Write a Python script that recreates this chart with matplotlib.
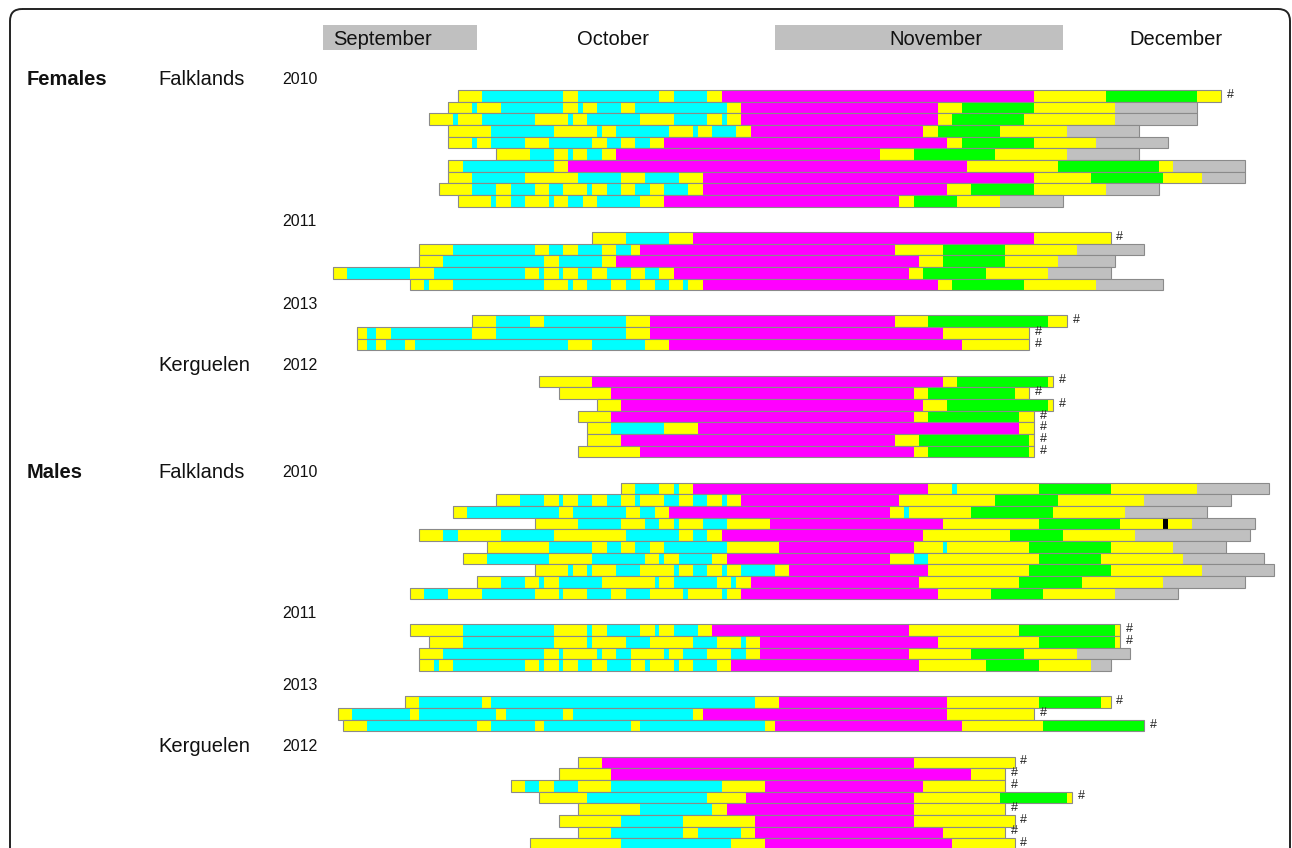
import matplotlib
matplotlib.use("Agg")
import matplotlib.pyplot as plt
from matplotlib.patches import FancyBboxPatch, Rectangle

plt.rcParams['font.family'] = ['Liberation Sans', 'DejaVu Sans']

# ---- data: each row = (start day, colour codes, end day of each segment)
# days counted from 1 September (1 Oct = 30, 1 Nov = 61, 1 Dec = 91)
# codes: y yellow, c cyan, m magenta, g green, s grey, k black
F_FALK_2010 = [
    (28, "ycycycymygy", [30.5, 39, 40.5, 49, 50.5, 54, 55.5, 88, 95.5, 105, 107.5]),
    (27, "ycycycycycymygys", [29.5, 30, 32.5, 39, 40.5, 41, 42.5, 45, 46.5, 56, 57.5, 78, 80.5, 88, 96.5, 105]),
    (25, "ycycycycycycymygys", [27.5, 28, 30.5, 36, 39.5, 40, 41.5, 47, 50.5, 54, 55.5, 56, 57.5, 78, 79.5, 87, 96.5, 105]),
    (27, "ycycycycycymygys", [31.5, 38, 42.5, 43, 44.5, 50, 52.5, 53, 54.5, 57, 58.5, 76.5, 78, 84.5, 91.5, 99]),
    (27, "ycycycycycymygys", [29.5, 30, 31.5, 35, 37.5, 42, 43.5, 45, 46.5, 48, 49.5, 79, 80.5, 88, 94.5, 102]),
    (32, "ycycycymygys", [35.5, 38, 39.5, 40, 41.5, 43, 44.5, 72, 75.5, 84, 91.5, 99]),
    (27, "ycymygys", [28.5, 38, 39.5, 81, 90.5, 101, 102.5, 110]),
    (27, "ycycycymygys", [29.5, 35, 40.5, 45, 47.5, 51, 53.5, 88, 94, 101.5, 105.5, 110]),
    (26, "ycycycycycycycymygys", [29.5, 32, 33.5, 36, 37.5, 39, 41.5, 42, 43.5, 45, 46.5, 48, 49.5, 52, 53.5, 79, 81.5, 88, 95.5, 101]),
    (28, "ycycycycycymygys", [31.5, 32, 33.5, 35, 37.5, 38, 39.5, 41, 42.5, 47, 49.5, 74, 75.5, 80, 84.5, 91]),
]
F_FALK_2011 = [
    (42, "ycymy", [45.5, 50, 52.5, 88, 96]),
    (24, "ycycycycymygys", [27.5, 36, 37.5, 39, 40.5, 43, 44.5, 46, 47, 73.5, 78.5, 85, 92.5, 99.5]),
    (24, "ycycymygys", [26.5, 37, 38.5, 43, 44.5, 76, 78.5, 85, 90.5, 96.5]),
    (15, "ycycycycycycycymygys", [16.5, 23, 25.5, 35, 36.5, 37, 38.5, 39, 40.5, 42, 43.5, 46, 47.5, 49, 50.5, 75, 76.5, 83, 89.5, 96]),
    (23, "ycycycycycycycymygys", [24.5, 25, 27.5, 37, 39.5, 40, 41.5, 44, 45.5, 47, 48.5, 50, 51.5, 52, 53.5, 78, 79.5, 87, 94.5, 101.5]),
]
F_FALK_2013 = [
    (29.5, "ycycymygy", [32, 35.5, 37, 45.5, 48, 73.5, 77, 89.5, 91.5]),
    (17.5, "ycycycymy", [18.5, 19.5, 21, 29.5, 32, 45.5, 48, 78.5, 87.5]),
    (17.5, "ycycycycymy", [18.5, 19.5, 20.5, 22.5, 23.5, 39.5, 42, 47.5, 50, 80.5, 87.5]),
]
F_KERG_2012 = [
    (36.5, "ymygy", [42, 78.5, 80, 89.5, 90]),
    (38.5, "ymygy", [44, 75.5, 77, 86, 87.5]),
    (42.5, "ymygy", [45, 76.5, 79, 89.5, 90]),
    (40.5, "ymygy", [44, 75.5, 77, 86.5, 88]),
    (41.5, "ycymy", [44, 49.5, 53, 86.5, 88]),
    (41.5, "ymygy", [45, 73.5, 76, 87.5, 88]),
    (40.5, "ymygy", [47, 75.5, 77, 87.5, 88]),
]
M_FALK_2010 = [
    (45, "ycycymycygys", [46.5, 49, 50.5, 51, 52.5, 77, 79.5, 80, 88.5, 96, 105, 112.5]),
    (32, "ycycycycycycycycymygys", [34.5, 37, 38.5, 39, 40.5, 42, 43.5, 45, 46.5, 47, 49.5, 51, 52.5, 54, 55.5, 56, 57.5, 74, 84, 90.5, 99.5, 108.5]),
    (27.5, "ycycycymycygys", [29, 38.5, 40, 45.5, 47, 48.5, 50, 73, 74.5, 75, 81.5, 90, 97.5, 106]),
    (36, "ycycycycymygykys", [40.5, 45, 47.5, 49, 50.5, 51, 53.5, 56, 60.5, 78.5, 88.5, 97, 101.5, 102, 104.5, 111]),
    (24, "ycycycycymygys", [26.5, 28, 32.5, 38, 45.5, 51, 52.5, 54, 55.5, 76.5, 85.5, 91, 98.5, 110.5]),
    (31, "ycycycycymycygys", [37.5, 42, 43.5, 45, 46.5, 48, 49.5, 56, 61.5, 75.5, 78.5, 79, 87.5, 96, 102.5, 108]),
    (28.5, "ycycycycymycygys", [31, 37.5, 42, 47.5, 49, 49.5, 51, 54.5, 56, 73, 75.5, 77, 88.5, 95, 103.5, 112]),
    (36, "ycycycycycycycymygys", [39.5, 40, 41.5, 42, 44.5, 47, 50.5, 51, 52.5, 54, 55.5, 56, 57.5, 61, 62.5, 77, 87.5, 96, 105.5, 113]),
    (30, "ycycycycycycymygys", [32.5, 35, 36.5, 37, 38.5, 43, 48.5, 49, 50.5, 55, 56.5, 57, 58.5, 76, 86.5, 93, 101.5, 110]),
    (23, "ycycycycycycycymygys", [24.5, 27, 30.5, 36, 38.5, 39, 41.5, 44, 45.5, 48, 51.5, 52, 55.5, 56, 57.5, 78, 83.5, 89, 96.5, 103]),
]
M_FALK_2011 = [
    (23, "ycycycycycymygy", [28.5, 38, 41.5, 42, 43.5, 47, 48.5, 49, 50.5, 53, 54.5, 75, 86.5, 96.5, 97]),
    (25, "ycycycycycymygy", [28.5, 38, 41.5, 42, 45.5, 48, 52.5, 55, 57.5, 58, 59.5, 78, 88.5, 96.5, 97]),
    (24, "ycycycycycycycymygys", [26.5, 37, 38.5, 39, 42.5, 43, 44.5, 46, 49.5, 50, 51.5, 54, 56.5, 58, 59.5, 75, 81.5, 87, 92.5, 98]),
    (24, "ycycycycycycycycycymygys", [25.5, 26, 27.5, 35, 36.5, 37, 38.5, 39, 40.5, 42, 43.5, 46, 47.5, 48, 50.5, 51, 52.5, 55, 56.5, 76, 83, 88.5, 94, 96]),
]
M_FALK_2013 = [
    (22.5, "ycycymygy", [24, 30.5, 31.5, 59, 61.5, 79, 88.5, 95, 96]),
    (15.5, "ycycycycymy", [17, 23, 24, 32, 33, 39, 40, 52.5, 53.5, 79, 88]),
    (16, "ycycycycymyg", [18.5, 30, 31.5, 36, 37, 46, 47, 60, 61, 80.5, 89, 99.5]),
]
M_KERG_2012 = [
    (40.5, "ymy", [43, 75.5, 86]),
    (38.5, "ymy", [44, 81.5, 85]),
    (33.5, "ycycycymy", [35, 36.5, 38, 40.5, 44, 55.5, 60, 76.5, 85]),
    (36.5, "ycymygy", [41.5, 54, 58, 75.5, 84.5, 91.5, 92]),
    (40.5, "ycymy", [47, 54.5, 56, 75.5, 85]),
    (38.5, "ycymy", [45, 51.5, 59, 75.5, 86]),
    (40.5, "ycycymy", [44, 51.5, 53, 57.5, 59, 78.5, 85]),
    (35.5, "ycymy", [45, 56.5, 60, 79.5, 86]),
]

GROUPS = [
    ("Females", "Falklands", "2010", F_FALK_2010),
    ("", "", "2011", F_FALK_2011),
    ("", "", "2013", F_FALK_2013),
    ("", "Kerguelen", "2012", F_KERG_2012),
    ("Males", "Falklands", "2010", M_FALK_2010),
    ("", "", "2011", M_FALK_2011),
    ("", "", "2013", M_FALK_2013),
    ("", "Kerguelen", "2012", M_KERG_2012),
]

MONTHS = ["September", "October", "November", "December"]
MONTH_BOXES = [(14, 30), None, (61, 91), None]

COLORS = {"y": "#ffff00", "c": "#00ffff", "m": "#ff00ff",
          "g": "#00ff00", "s": "#c0c0c0", "k": "#000000"}

# ---- layout (pixel-like units)
W, H = 1292, 848
PX_PER_DAY = 9.6
OCT1_PX = 477
ROW_H = 11.67
GAP = 25.2
TOP0 = 90

fig = plt.figure(figsize=(W / 100, H / 100), dpi=100)
ov = fig.add_axes([0, 0, 1, 1])
ov.set_xlim(0, W)
ov.set_ylim(H, 0)
ov.axis("off")
ax = fig.add_axes([0, 0, 1, 1])
ax.set_xlim(30 - OCT1_PX / PX_PER_DAY, 30 + (W - OCT1_PX) / PX_PER_DAY)
ax.set_ylim(H, 0)
ax.axis("off")
ax.patch.set_alpha(0)

# outer rounded frame
ov.add_patch(FancyBboxPatch((10, 9), 1280, 900, boxstyle="round,pad=0,rounding_size=12",
                            fill=False, edgecolor="#222222", linewidth=1.4))

# month header
for name, box in zip(MONTHS, MONTH_BOXES):
    if box is not None:
        ax.add_patch(Rectangle((box[0], 24.5), box[1] - box[0], 25.5,
                               facecolor="#c0c0c0", edgecolor="none", zorder=1))
month_text_px = [(333, "left"), (613, "center"), (936, "center"), (1176, "center")]
for name, (xp, ha) in zip(MONTHS, month_text_px):
    ax.text(xp, 45, name, ha=ha, va="baseline", fontsize=14.5, color="#111111",
            transform=ov.transData, zorder=5)

top = TOP0
for sex, loc, year, rows in GROUPS:
    if sex:
        ov.text(27, top - 5, sex, ha="left", va="baseline", fontsize=14.5,
                fontweight="bold", color="#111111")
    if loc:
        ov.text(158, top - 5, loc, ha="left", va="baseline", fontsize=14.5, color="#111111")
    ov.text(282, top - 6, year, ha="left", va="baseline", fontsize=11.5, color="#111111")
    for i, (start, codes, ends) in enumerate(rows):
        yc = top + (i + 0.5) * ROW_H
        lefts = [start] + ends[:-1]
        widths = [e - l for l, e in zip(lefts, ends)]
        ax.barh([yc] * len(codes), widths, left=lefts, height=ROW_H,
                color=[COLORS[c] for c in codes], linewidth=0)
        ax.add_patch(Rectangle((start, yc - ROW_H / 2), ends[-1] - start, ROW_H,
                               fill=False, edgecolor="#8a8a8a", linewidth=0.8))
        if codes[-1] != "s":
            ax.text(ends[-1] + 0.6, yc - 1, "#", ha="left", va="center",
                    fontsize=9, color="#222222")
    top += len(rows) * ROW_H + GAP

fig.savefig("out.png", dpi=100)
